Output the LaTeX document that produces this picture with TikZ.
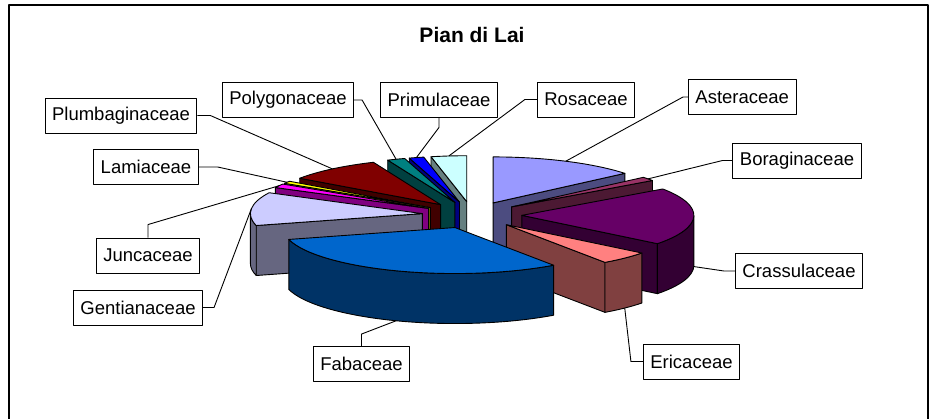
\documentclass[tikz,border=0pt]{standalone}
\usepackage{fontspec}
\setmainfont{Liberation Sans}
\usetikzlibrary{calc}

\definecolor{aster}{RGB}{153,153,255}
\definecolor{borag}{RGB}{153,51,102}
\definecolor{crass}{RGB}{102,0,102}
\definecolor{eric}{RGB}{255,128,128}
\definecolor{faba}{RGB}{0,102,204}
\definecolor{gent}{RGB}{204,204,255}
\definecolor{junc}{RGB}{255,0,255}
\definecolor{lami}{RGB}{255,255,0}
\definecolor{plumb}{RGB}{128,0,0}
\definecolor{poly}{RGB}{0,128,128}
\definecolor{prim}{RGB}{0,0,255}
\definecolor{rosa}{RGB}{204,255,255}

\begin{document}
\begin{tikzpicture}[x=1pt,y=1pt,line join=round,
    slice/.style={draw=black,line width=0.9pt},
    lab/.style={draw,line width=0.9pt,fill=white,minimum height=35pt,inner xsep=7pt,inner ysep=0pt,
      font=\fontsize{18.5}{20}\selectfont},
    leader/.style={line width=0.9pt}]
  \def\ra{172} \def\rb{46} \def\dep{50} \def\expl{0.29}
  \pgfmathsetmacro\ex{\expl*\ra} \pgfmathsetmacro\ey{\expl*\rb}
  \useasboundingbox (0,-418) rectangle (933,0);
  \draw[line width=1.2pt] (9,-425) -- (9,-5) -- (928,-5) -- (928,-425);
  \node[font=\bfseries\fontsize{21}{24}\selectfont] (title) at (472,-35) {Pian di Lai};
  \coordinate (C) at (472,-215);
  % slices, back to front
  \foreach \lo/\hi/\col in {90/102/rosa,102/107/prim,107/113/poly,40/90/aster,113/145/plumb,
      35/40/borag,145/148/lami,148/153/junc,-207/-165/gent,-38/35/crass,-55/-38/eric,-165/-55/faba}{
    \pgfmathsetmacro\md{(\lo+\hi)/2}
    \coordinate (A) at ($(C)+(\md:\ex pt and \ey pt)$);
    \pgfmathtruncatemacro\vlo{cos(\lo)>0.001}
    \ifnum\vlo=1
      \draw[slice,fill=\col!50!black] (A) -- ++(\lo:\ra pt and \rb pt) -- ++(0,-\dep) -- ($(A)+(0,-\dep)$) -- cycle;
    \fi
    \pgfmathtruncatemacro\vhi{cos(\hi)<-0.001}
    \ifnum\vhi=1
      \draw[slice,fill=\col!50!black] (A) -- ++(\hi:\ra pt and \rb pt) -- ++(0,-\dep) -- ($(A)+(0,-\dep)$) -- cycle;
    \fi
    \pgfmathsetmacro\fs{max(\lo,-180)}
    \pgfmathsetmacro\ft{min(\hi,0)}
    \pgfmathtruncatemacro\vf{\fs<\ft}
    \ifnum\vf=1
      \draw[slice,fill=\col!50!black] ($(A)+(\fs:\ra pt and \rb pt)$)
        arc[start angle=\fs,end angle=\ft,x radius=\ra pt,y radius=\rb pt] -- ++(0,-\dep)
        arc[start angle=\ft,end angle=\fs,x radius=\ra pt,y radius=\rb pt] -- cycle;
    \fi
    \draw[slice,fill=\col] (A) -- ++(\lo:\ra pt and \rb pt)
      arc[start angle=\lo,end angle=\hi,x radius=\ra pt,y radius=\rb pt] -- cycle;
    \pgfmathtruncatemacro\fr{sin(\md)<0}
    \ifnum\fr=1
      \coordinate (p\col) at ($(A)+(\md:\ra pt and \rb pt)+(0,-\dep)$);
    \else
      \coordinate (p\col) at ($(A)+(\md:\ra pt and \rb pt)$);
    \fi
  }
  % labels
  \node[lab,anchor=west] (laster) at (688,-97) {Asteraceae};
  \node[lab] (lborag) at (797,-160.5) {Boraginaceae};
  \node[lab] (lcrass) at (799,-271) {Crassulaceae};
  \node[lab] (leric) at (691.5,-361.5) {Ericaceae};
  \node[lab] (lfaba) at (361.5,-364) {Fabaceae};
  \node[lab] (lgent) at (138,-307.5) {Gentianaceae};
  \node[lab] (ljunc) at (148,-255.5) {Juncaceae};
  \node[lab] (llami) at (146,-167) {Lamiaceae};
  \node[lab] (lplumb) at (121,-115.5) {Plumbaginaceae};
  \node[lab] (lpoly) at (288,-100) {Polygonaceae};
  \node[lab] (lprim) at (439,-99.5) {Primulaceae};
  \node[lab] (lrosa) at (586,-99.5) {Rosaceae};
  % leader lines
  \foreach \nm/\side/\off in {aster/west/{-5,0},borag/west/{-10,0},crass/west/{-11,0},eric/west/{-12,0},
      faba/north/{0,12},gent/east/{11,0},junc/north/{0,13},lami/east/{19,0},plumb/east/{13,0},
      poly/east/{8,0},prim/south/{0,-10},rosa/west/{-12,0}}
    \draw[leader] (l\nm.\side) -- ++(\off) -- (p\nm);
\end{tikzpicture}
\end{document}
